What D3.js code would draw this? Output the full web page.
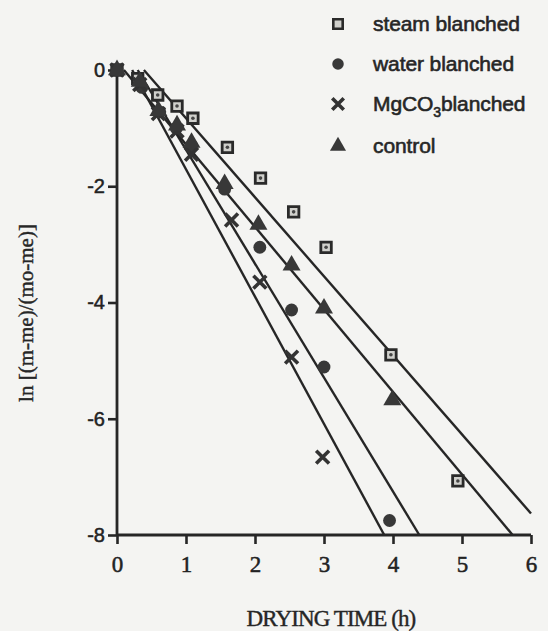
<!DOCTYPE html>
<html>
<head>
<meta charset="utf-8">
<script src="https://cdn.jsdelivr.net/npm/d3@7"></script>
<style>
  html, body { margin: 0; padding: 0; background: #f4f4f2; }
  svg { display: block; }
  .tick text { fill: #222; }
</style>
</head>
<body>
<svg width="548" height="631"></svg>
<script>
// series: drying time (h) vs ln[(m-me)/(mo-me)]
const seriesNames = ['steam blanched', 'water blanched', 'MgCO3blanched', 'control']
const steamT  = [0, 0.30, 0.59, 0.87, 1.10, 1.60, 2.08, 2.56, 3.03, 3.97, 4.94]
const steamV  = [0, -0.15, -0.43, -0.62, -0.83, -1.33, -1.86, -2.44, -3.05, -4.90, -7.07]
const waterT  = [0, 0.36, 0.62, 0.86, 1.08, 1.56, 2.07, 2.53, 3.00, 3.95]
const waterV  = [0, -0.30, -0.72, -1.00, -1.30, -2.05, -3.05, -4.13, -5.11, -7.75]
const mgT     = [0, 0.33, 0.60, 0.87, 1.08, 1.66, 2.07, 2.53, 2.98]
const mgV     = [0, -0.25, -0.75, -1.05, -1.45, -2.58, -3.65, -4.94, -6.66]
const ctrlT   = [0, 0.33, 0.60, 0.87, 1.08, 1.56, 2.05, 2.53, 3.00, 3.99]
const ctrlV   = [0, -0.20, -0.70, -0.95, -1.25, -1.96, -2.66, -3.36, -4.10, -5.68]
// fitted lines: time where line crosses 0 and slope (per h)
const lineStart = [0.39, 0.30, 0.22, 0.10]
const lineSlope = [-1.36, -1.96, -2.19, -1.42]
const xTicks = [0, 1, 2, 3, 4, 5, 6]
const yTicks = [0, -2, -4, -6, -8]

const svg = d3.select('svg')
const ink = '#262626'

const x = d3.scaleLinear().domain([0, 6]).range([117, 531])
const y = d3.scaleLinear().domain([-8, 0]).range([535, 70])

const symbols = [d3.symbolSquare, d3.symbolCircle, d3.symbolX, d3.symbolTriangle]
const sizes = [110, 130, 110, 140]

function zip(t, v) { return t.map((d, i) => ({t: d, v: v[i]})) }
const data = [zip(steamT, steamV), zip(waterT, waterV), zip(mgT, mgV), zip(ctrlT, ctrlV)]

// regression lines, clipped to the axes box
const lines = svg.append('g')
seriesNames.forEach((name, i) => {
    let t1 = lineStart[i] + (-8) / lineSlope[i]
    let v1 = -8
    if (t1 > 6) { t1 = 6; v1 = lineSlope[i] * (6 - lineStart[i]) }
    lines.append('line')
        .attr('x1', x(lineStart[i])).attr('y1', y(0))
        .attr('x2', x(t1)).attr('y2', y(v1))
        .attr('stroke', ink).attr('stroke-width', 2.4)
})

// axes
const xAxis = d3.axisBottom(x).tickValues(xTicks).tickSize(9).tickPadding(12).tickFormat(d => d)
const yAxis = d3.axisLeft(y).tickValues(yTicks).tickSize(9).tickPadding(3).tickFormat(d => String(d))

const gx = svg.append('g').attr('transform', `translate(0,${y(-8)})`).call(xAxis)
gx.select('.domain').attr('d', `M${x(0)},0H${x(6)}`).attr('stroke', ink).attr('stroke-width', 2.8)
gx.selectAll('.tick line').attr('stroke', ink).attr('stroke-width', 2.6)
gx.selectAll('.tick text').attr('font-family', '"Liberation Serif", serif').attr('font-size', 23)
    .attr('stroke', '#222').attr('stroke-width', 0.5)

const gy = svg.append('g').attr('transform', `translate(${x(0)},0)`).call(yAxis)
gy.select('.domain').attr('d', `M0,${y(0)}V${y(-8)}`).attr('stroke', ink).attr('stroke-width', 2.8)
gy.selectAll('.tick line').attr('stroke', ink).attr('stroke-width', 2.6)
gy.selectAll('.tick text').attr('font-family', '"Liberation Sans", Arial, sans-serif').attr('font-size', 20)
    .attr('stroke', '#222').attr('stroke-width', 0.5)

// points
data.forEach((pts, i) => {
    const g = svg.append('g')
    g.selectAll('path')
        .data(pts)
        .enter()
        .append('path')
        .attr('transform', d => `translate(${x(d.t)},${y(d.v)})`)
        .attr('d', d3.symbol(symbols[i], sizes[i]))
        .attr('fill', i === 0 ? '#d0d0cc' : (i === 2 ? 'none' : '#383838'))
        .attr('stroke', i === 0 ? '#2a2a2a' : (i === 2 ? '#333' : 'none'))
        .attr('stroke-width', i === 0 ? 2.8 : 3.6)
    if (i === 0) {
        g.selectAll('circle')
            .data(pts)
            .enter()
            .append('circle')
            .attr('cx', d => x(d.t)).attr('cy', d => y(d.v))
            .attr('r', 1.8).attr('fill', '#444')
    }
})

// axis titles
svg.append('text')
    .attr('x', 331).attr('y', 626)
    .attr('text-anchor', 'middle')
    .attr('font-family', '"Liberation Serif", serif')
    .attr('font-size', 23).attr('letter-spacing', -0.9)
    .attr('fill', ink).attr('stroke', ink).attr('stroke-width', 0.4)
    .text('DRYING TIME (h)')

svg.append('text')
    .attr('transform', 'translate(33,313) rotate(-90)')
    .attr('text-anchor', 'middle')
    .attr('font-family', '"Liberation Serif", serif')
    .attr('font-size', 21)
    .attr('fill', ink).attr('stroke', ink).attr('stroke-width', 0.4)
    .text('ln [(m-me)/(mo-me)]')

// legend
const legendY = [24, 64, 104, 146]
const legend = svg.append('g')
seriesNames.forEach((name, i) => {
    legend.append('path')
        .attr('transform', `translate(338,${legendY[i]})`)
        .attr('d', d3.symbol(symbols[i], sizes[i] * 0.8))
        .attr('fill', i === 0 ? '#d0d0cc' : (i === 2 ? 'none' : '#383838'))
        .attr('stroke', i === 0 ? '#2a2a2a' : (i === 2 ? '#333' : 'none'))
        .attr('stroke-width', i === 0 ? 2.6 : 3.6)
    const t = legend.append('text')
        .attr('x', 373).attr('y', legendY[i] + 7)
        .attr('font-family', '"Liberation Sans", Arial, sans-serif')
        .attr('font-size', 21).attr('letter-spacing', -0.1)
        .attr('fill', ink).attr('stroke', ink).attr('stroke-width', 0.6)
    if (name.startsWith('MgCO3')) {
        t.append('tspan').text('MgCO')
        t.append('tspan').attr('dy', 6).attr('font-size', 14).text('3')
        t.append('tspan').attr('dy', -6).text('blanched')
    } else {
        t.text(name)
    }
})
</script>
</body>
</html>
